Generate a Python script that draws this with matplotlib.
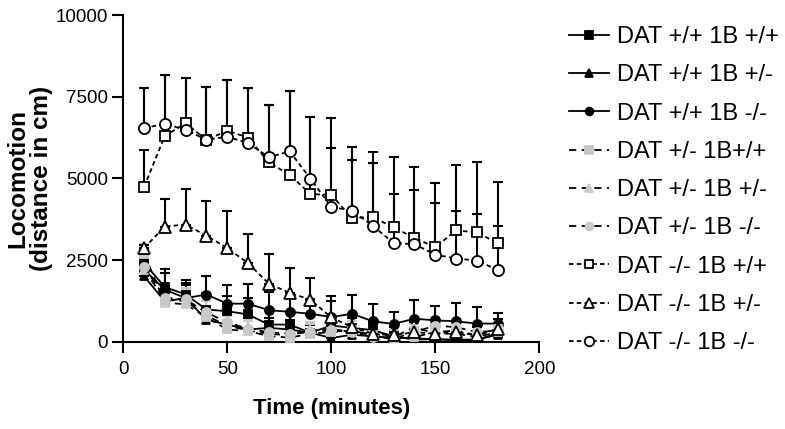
import matplotlib
matplotlib.use("Agg")
import matplotlib.pyplot as plt
import numpy as np

plt.rcParams['font.family'] = ['Liberation Sans', 'DejaVu Sans']

time = [10, 20, 30, 40, 50, 60, 70, 80, 90, 100, 110, 120, 130, 140, 150, 160, 170, 180]

labels = ["DAT +/+ 1B +/+", "DAT +/+ 1B +/-", "DAT +/+ 1B -/-",
          "DAT +/- 1B+/+", "DAT +/- 1B +/-", "DAT +/- 1B -/-",
          "DAT -/- 1B +/+", "DAT -/- 1B +/-", "DAT -/- 1B -/-"]

wt_wt = [2410, 1680, 1450, 990, 940, 840, 530, 530, 280, 500, 430, 360, 170, 70, 90, 50, 50, 280]
wt_het = [2010, 1240, 1340, 680, 530, 380, 430, 380, 280, 120, 220, 170, 120, 120, 70, 70, 70, 220]
wt_ko = [2210, 1600, 1340, 1450, 1170, 1170, 970, 920, 860, 760, 860, 630, 550, 710, 660, 630, 560, 560]
het_wt = [2700, 1200, 1150, 750, 380, 330, 180, 130, 250, 300, 350, 200, 80, 150, 300, 350, 200, 400]
het_het = [2200, 1300, 1250, 800, 500, 350, 250, 200, 350, 400, 300, 250, 150, 450, 250, 250, 150, 300]
het_ko = [2300, 1350, 1300, 900, 600, 400, 300, 250, 300, 350, 300, 150, 100, 300, 500, 450, 300, 350]
ko_wt = [4740, 6300, 6690, 6180, 6460, 6250, 5490, 5110, 4520, 4500, 3790, 3820, 3500, 3180, 2900, 3410, 3350, 3020]
ko_het = [2870, 3530, 3590, 3250, 2870, 2410, 1780, 1500, 1290, 750, 450, 250, 200, 300, 250, 300, 200, 400]
ko_ko = [6540, 6670, 6490, 6180, 6280, 6080, 5650, 5830, 4990, 4130, 4020, 3550, 3020, 2990, 2670, 2550, 2490, 2200]

wt_wt_err = [450, 550, 450, 500, 450, 500, 450, 350, 300, 250, 300, 250, 200, 250, 200, 250, 200, 300]
wt_het_err = [350, 450, 400, 400, 350, 350, 300, 300, 250, 250, 250, 200, 200, 200, 200, 150, 150, 200]
wt_ko_err = [500, 500, 450, 560, 560, 610, 550, 450, 450, 650, 590, 530, 360, 560, 450, 560, 510, 310]
het_wt_err = [300, 400, 400, 350, 300, 300, 250, 300, 300, 300, 300, 250, 200, 250, 250, 250, 250, 250]
het_het_err = [300, 350, 350, 300, 300, 300, 250, 250, 250, 250, 250, 250, 200, 250, 200, 250, 200, 250]
het_ko_err = [350, 400, 350, 350, 300, 300, 300, 250, 300, 300, 250, 250, 200, 250, 250, 250, 250, 250]
ko_wt_err = [1140, 1870, 1380, 1630, 1550, 1510, 1760, 2580, 2370, 2340, 2160, 1980, 2170, 2160, 1950, 1990, 2150, 1860]
ko_het_err = [100, 840, 1090, 1050, 1140, 900, 920, 760, 660, 500, 400, 300, 250, 300, 250, 300, 250, 300]
ko_ko_err = [1240, 1500, 1580, 1630, 1730, 1680, 1600, 1860, 1900, 1800, 1530, 1920, 1510, 1660, 1580, 1450, 1420, 1350]

series = [wt_wt, wt_het, wt_ko, het_wt, het_het, het_ko, ko_wt, ko_het, ko_ko]
errors = [wt_wt_err, wt_het_err, wt_ko_err, het_wt_err, het_het_err, het_ko_err, ko_wt_err, ko_het_err, ko_ko_err]

grey = '#c8c8c8'
styles = [
    dict(marker='s', mfc='black', mec='black', ls='-', ms=6),
    dict(marker='^', mfc='black', mec='black', ls='-', ms=6),
    dict(marker='o', mfc='black', mec='black', ls='-', ms=6.5),
    dict(marker='s', mfc=grey, mec=grey, ls=(0, (4, 3)), ms=6),
    dict(marker='^', mfc=grey, mec=grey, ls=(0, (4, 3)), ms=6),
    dict(marker='o', mfc=grey, mec=grey, ls=(0, (4, 3)), ms=6.5),
    dict(marker='s', mfc='white', mec='black', ls=(0, (2.5, 1.8)), ms=7.5),
    dict(marker='^', mfc='white', mec='black', ls=(0, (2.5, 1.8)), ms=8),
    dict(marker='o', mfc='white', mec='black', ls=(0, (2.5, 1.8)), ms=8),
]
errcolors = ['black', 'black', 'black', grey, grey, grey, 'black', 'black', 'black']

fig = plt.figure(figsize=(7.85, 4.29), dpi=100)
ax = fig.add_axes([0.157, 0.203, 0.530, 0.762])

handles = []
for y, e, st, ec, lab in zip(series, errors, styles, errcolors, labels):
    ax.errorbar(time, y, yerr=[np.zeros(len(e)), e], fmt='none', ecolor=ec,
                elinewidth=1.5, capsize=3.5, capthick=1.5, zorder=1)
    h, = ax.plot(time, y, color='black', lw=1.3, linestyle=st['ls'], marker=st['marker'],
                 mfc=st['mfc'], mec=st['mec'], ms=st['ms'], mew=1.3, zorder=3, label=lab)
    handles.append(h)

ax.set_xlim(0, 200)
ax.set_ylim(0, 10000)
ax.set_xticks([0, 50, 100, 150, 200])
ax.set_yticks([0, 2500, 5000, 7500, 10000])
for s in ['top', 'right']:
    ax.spines[s].set_visible(False)
for s in ['left', 'bottom']:
    ax.spines[s].set_linewidth(1.5)
ax.tick_params(direction='out', length=8, width=1.5, labelsize=13.5)
ax.tick_params(axis='x', pad=6)
ax.tick_params(axis='y', pad=3)
ax.set_xlabel('Time (minutes)', fontsize=16, fontweight='bold', labelpad=14)
ax.set_ylabel('Locomotion\n(distance in cm)', fontsize=17.5, fontweight='bold', labelpad=2,
              linespacing=1.0)

fig.legend(handles=handles, labels=labels, loc='upper left', bbox_to_anchor=(569 / 785, 1 - 26 / 429),
           frameon=False, fontsize=17, handlelength=1.7, labelspacing=0.69, handletextpad=0.35,
           borderpad=0, borderaxespad=0, markerscale=0.85)

fig.savefig('out.png', dpi=100)
